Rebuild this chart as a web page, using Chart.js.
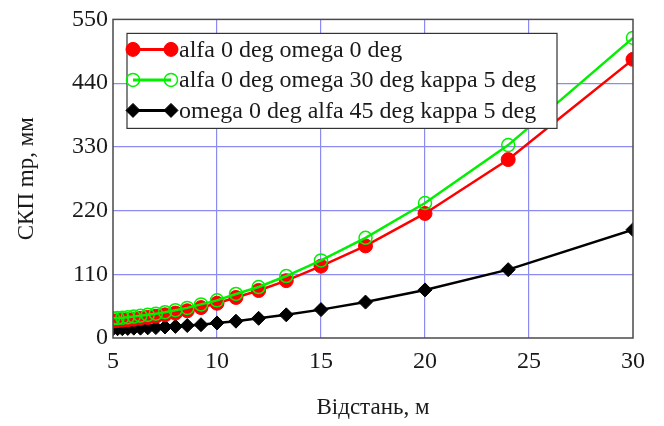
<!DOCTYPE html>
<html>
<head>
<meta charset="utf-8">
<script src="https://cdn.jsdelivr.net/npm/chart.js@4/dist/chart.umd.min.js"></script>
<style>
  html, body { margin: 0; padding: 0; background: #ffffff; }
  #wrap { width: 664px; height: 426px; position: relative; }
</style>
</head>
<body>
<div id="wrap"><canvas id="c" width="664" height="426"></canvas></div>
<script>
// ---- data ----
const distances = [5, 5.22, 5.45, 5.71, 6, 6.32, 6.67, 7.06, 7.5, 8, 8.57, 9.23, 10, 10.91, 12, 13.33, 15, 17.14, 20, 24, 30];
const seriesLabels = [
  "alfa 0 deg omega 0 deg",
  "alfa 0 deg omega 30 deg kappa 5 deg",
  "omega 0 deg alfa 45 deg kappa 5 deg"
];
const redValues   = [29.5, 30, 31, 31.5, 32.5, 34, 35.5, 37.5, 40, 43, 47, 52.5, 60, 70, 82, 99, 124, 159, 215, 308, 481];
const greenValues = [34, 34.5, 35, 36, 37, 38.5, 40, 42, 44.5, 48, 52, 58, 65, 76, 88, 107, 134, 173, 233, 333, 518];
const blackValues = [16, 16, 16, 16.5, 17, 17, 17.5, 18, 19, 20, 21.5, 23, 26, 29, 34, 40, 49, 62, 83, 118, 187];
const xTickValues = [5, 10, 15, 20, 25, 30];
const yTickValues = [0, 110, 220, 330, 440, 550];
const xTitle = "Відстань, м";
const yTitle = "СКП mp, мм";

const toPoints = (vals) => distances.map((d, i) => ({ x: d, y: vals[i] }));

const serif = "'Liberation Serif', 'Times New Roman', serif";

const plotFrame = {
  id: 'plotFrame',
  afterDatasetsDraw(chart) {
    const { ctx, chartArea: a } = chart;
    ctx.save();
    ctx.strokeStyle = '#4a4a4a';
    ctx.lineWidth = 1.5;
    ctx.strokeRect(a.left, a.top, a.right - a.left, a.bottom - a.top);
    ctx.restore();
  }
};

const boxLegend = {
  id: 'boxLegend',
  afterDraw(chart) {
    const { ctx, chartArea: a } = chart;
    const bx = a.left + 14, by = a.top + 14, bw = 430, bh = 95;
    ctx.save();
    ctx.fillStyle = '#ffffff';
    ctx.fillRect(bx, by, bw, bh);
    ctx.strokeStyle = '#333333';
    ctx.lineWidth = 1.2;
    ctx.strokeRect(bx, by, bw, bh);
    chart.data.datasets.forEach((ds, i) => {
      const y = by + 16 + i * 30.5;
      const x0 = bx + 6, x1 = bx + 44;
      ctx.strokeStyle = ds.borderColor;
      ctx.lineWidth = 3;
      ctx.beginPath(); ctx.moveTo(x0, y); ctx.lineTo(x1, y); ctx.stroke();
      [x0, x1].forEach(px => {
        ctx.fillStyle = ds.pointBackgroundColor;
        ctx.strokeStyle = ds.pointBorderColor;
        ctx.lineWidth = ds.pointBorderWidth;
        Chart.helpers.drawPoint(ctx, { pointStyle: ds.pointStyle, radius: ds.pointRadius, borderWidth: ds.pointBorderWidth, rotation: 0 }, px, y);
      });
      ctx.fillStyle = '#1a1a1a';
      ctx.font = "24px " + serif;
      ctx.textBaseline = 'middle';
      ctx.textAlign = 'left';
      ctx.fillText(ds.label, bx + 52, y + 1);
    });
    ctx.restore();
  }
};

new Chart(document.getElementById('c'), {
  type: 'line',
  data: {
    datasets: [
      {
        label: seriesLabels[0], data: toPoints(redValues),
        borderColor: '#ff0000', backgroundColor: '#ff0000', borderWidth: 2.5,
        pointStyle: 'circle', pointRadius: 7, pointBackgroundColor: '#ff0000',
        pointBorderColor: '#ff0000', pointBorderWidth: 1, tension: 0, order: 2
      },
      {
        label: seriesLabels[1], data: toPoints(greenValues),
        borderColor: '#00f000', backgroundColor: '#00f000', borderWidth: 2.5,
        pointStyle: 'circle', pointRadius: 6.5, pointBackgroundColor: 'rgba(0,0,0,0)',
        pointBorderColor: '#00f000', pointBorderWidth: 1.5, tension: 0, order: 1
      },
      {
        label: seriesLabels[2], data: toPoints(blackValues),
        borderColor: '#000000', backgroundColor: '#000000', borderWidth: 2.5,
        pointStyle: 'rectRot', pointRadius: 7, pointBackgroundColor: '#000000',
        pointBorderColor: '#000000', pointBorderWidth: 1, tension: 0, order: 3
      }
    ]
  },
  options: {
    responsive: false,
    animation: false,
    events: [],
    layout: { padding: { left: 0, right: 31, top: 15, bottom: 0 } },
    plugins: { legend: { display: false }, tooltip: { enabled: false } },
    scales: {
      x: {
        type: 'linear', min: 5, max: 30,
        afterBuildTicks: (s) => { s.ticks = xTickValues.map(v => ({ value: v })); },
        afterFit: (s) => { s.height = 88; },
        grid: { color: (c) => (c.tick && (c.tick.value === 5 || c.tick.value === 30)) ? 'rgba(0,0,0,0)' : '#8c8cf0', lineWidth: 1.2, drawTicks: false },
        border: { display: false },
        ticks: { color: '#1a1a1a', font: { family: serif, size: 24 }, padding: 9, maxRotation: 0 },
        title: { display: true, text: xTitle, color: '#1a1a1a', font: { family: serif, size: 23 }, padding: { top: 14 } }
      },
      y: {
        type: 'linear', min: 0, max: 550,
        afterBuildTicks: (s) => { s.ticks = yTickValues.map(v => ({ value: v })); },
        afterFit: (s) => { s.width = 113; },
        grid: { color: (c) => (c.tick && (c.tick.value === 0 || c.tick.value === 550)) ? 'rgba(0,0,0,0)' : '#8c8cf0', lineWidth: 1.2, drawTicks: false },
        border: { display: false },
        ticks: { color: '#1a1a1a', font: { family: serif, size: 24 }, padding: 5 },
        title: { display: true, text: yTitle, color: '#1a1a1a', font: { family: serif, size: 23 }, padding: { top: 13, bottom: 0 } }
      }
    }
  },
  plugins: [plotFrame, boxLegend]
});
</script>
</body>
</html>
